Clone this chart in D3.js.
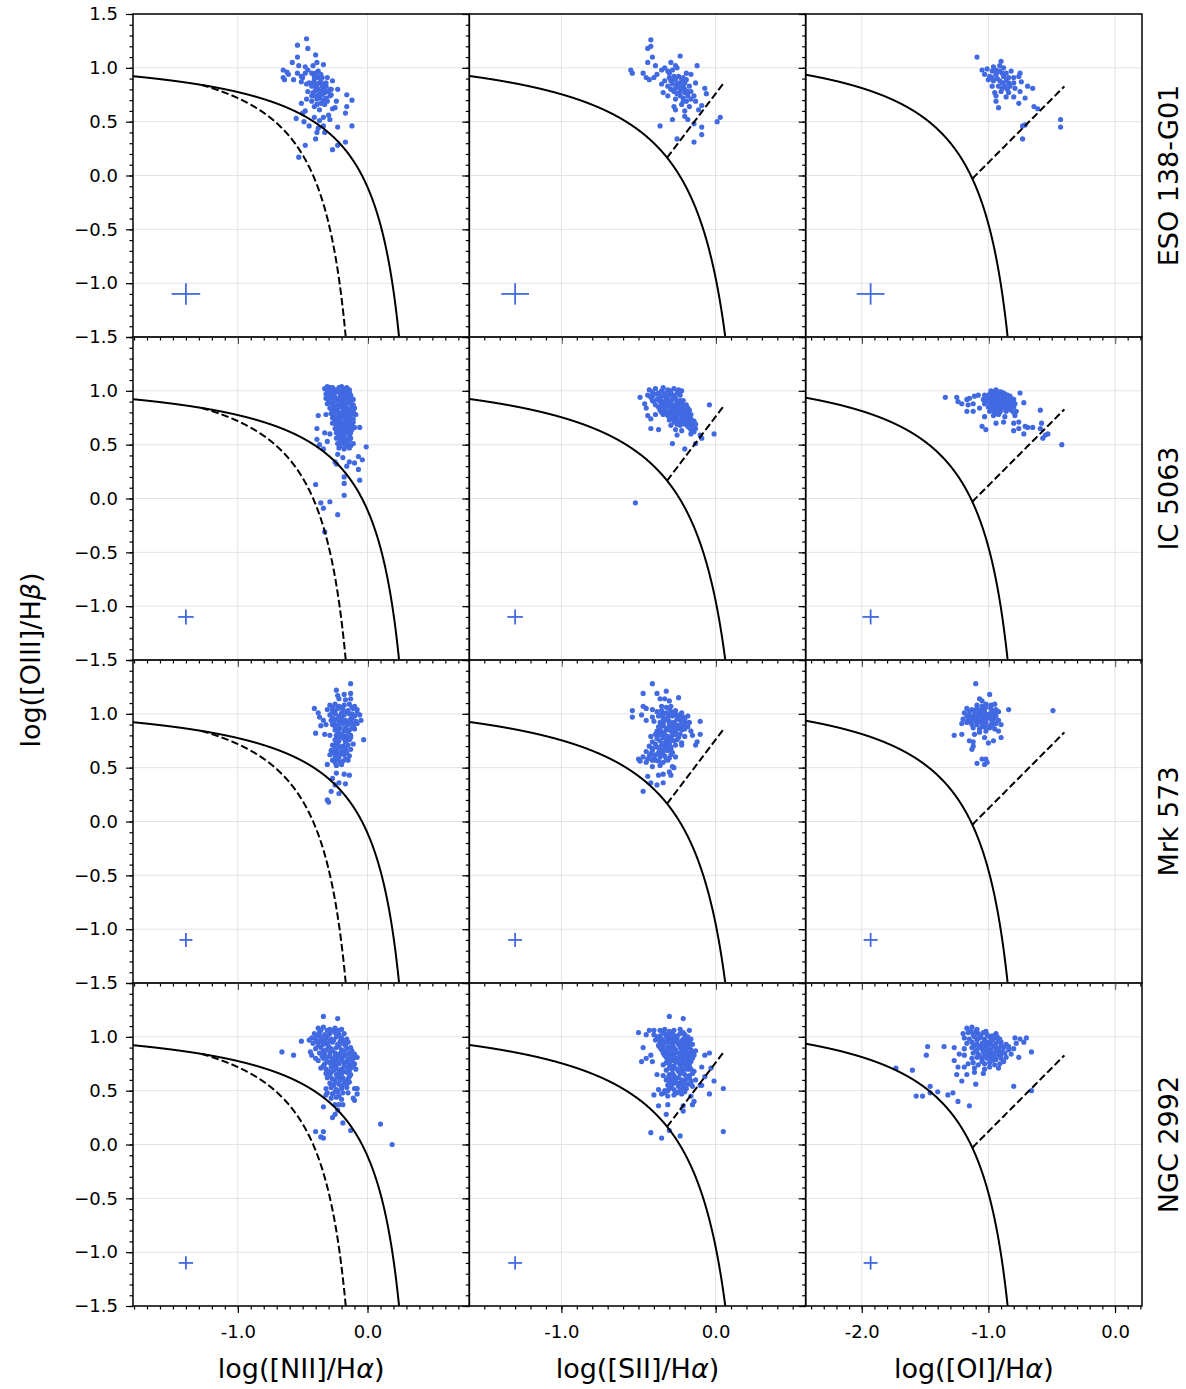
<!DOCTYPE html>
<meta charset="utf-8">
<style>
body { margin: 0; background: #fff; }
text { font-family: "DejaVu Sans", sans-serif; fill: #000; }
.grid line { stroke: #e3e3e3; stroke-width: 1; }
.tick line { stroke: #000; stroke-width: 1.2; }
.tick text { font-size: 18px; }
.axislabel { font-size: 27px; }
</style>

<svg width="1186" height="1389"></svg>
<script src="https://cdn.jsdelivr.net/npm/d3@7"></script>

<script>

// ---- data (x = log line ratio, y = log([OIII]/Hb)) ----
var galaxies = ["ESO 138-G01", "IC 5063", "Mrk 573", "NGC 2992"];
var xNames = ["NII", "SII", "OI"];

var xDomains = [[-1.808, 0.785], [-1.597, 0.584], [-2.443, 0.213]];
var xMajor = [[-1, 0], [-1, 0], [-2, -1, 0]];
var yMajor = [-1.5, -1, -0.5, 0, 0.5, 1, 1.5];

// typical error bar, drawn in the lower left of each panel
var errPosX = [-1.4, -1.3, -1.93];
var errPosY = -1.1;
var errX = [[0.11, 0.09, 0.11], [0.06, 0.05, 0.065], [0.05, 0.045, 0.055], [0.055, 0.045, 0.055]];
var errY = [0.1, 0.07, 0.065, 0.062];

var eso_nii = [[-0.47,1.27],[-0.54,1.21],[-0.46,1.18],[-0.40,1.12],[-0.54,1.10],[-0.58,1.05],[-0.39,1.05],[-0.53,1.02],[-0.48,1.01],[-0.42,1.02],[-0.34,1.03],[-0.65,0.98],[-0.62,0.96],[-0.61,0.94],[-0.65,0.91],[-0.64,0.89],[-0.57,0.89],[-0.54,0.95],[-0.50,0.91],[-0.46,0.98],[-0.43,0.95],[-0.38,0.97],[-0.36,0.94],[-0.31,0.91],[-0.27,0.88],[-0.51,0.87],[-0.47,0.85],[-0.41,0.89],[-0.37,0.86],[-0.43,0.83],[-0.39,0.81],[-0.34,0.81],[-0.29,0.80],[-0.23,0.80],[-0.46,0.78],[-0.42,0.77],[-0.38,0.75],[-0.33,0.77],[-0.28,0.75],[-0.16,0.75],[-0.24,0.69],[-0.12,0.70],[-0.47,0.71],[-0.51,0.67],[-0.43,0.69],[-0.41,0.64],[-0.37,0.61],[-0.33,0.66],[-0.27,0.62],[-0.25,0.63],[-0.16,0.64],[-0.17,0.58],[-0.48,0.60],[-0.50,0.58],[-0.55,0.53],[-0.49,0.50],[-0.41,0.54],[-0.37,0.51],[-0.34,0.54],[-0.30,0.56],[-0.29,0.52],[-0.45,0.46],[-0.38,0.44],[-0.34,0.46],[-0.33,0.40],[-0.23,0.45],[-0.12,0.46],[-0.39,0.40],[-0.40,0.34],[-0.17,0.31],[-0.23,0.28],[-0.48,0.28],[-0.27,0.24],[-0.53,0.17],[-0.41,0.92],[-0.38,0.91],[-0.36,0.89],[-0.42,0.86],[-0.39,0.85],[-0.34,0.85],[-0.32,0.83],[-0.38,0.80],[-0.36,0.78],[-0.41,0.74],[-0.37,0.72],[-0.32,0.72],[-0.31,0.69],[-0.36,0.67],[-0.39,0.66],[-0.29,0.74],[-0.28,0.80],[-0.43,0.74],[-0.45,0.86],[-0.48,0.95],[-0.51,0.92],[-0.32,0.86],[-0.40,0.95],[-0.35,0.91],[-0.40,0.83],[-0.35,0.83],[-0.33,0.79],[-0.40,0.79],[-0.35,0.75],[-0.39,0.71],[-0.34,0.70],[-0.30,0.78]];

var eso_sii = [[-0.42,1.26],[-0.42,1.20],[-0.44,1.18],[-0.41,1.10],[-0.23,1.11],[-0.44,1.05],[-0.39,1.02],[-0.29,1.05],[-0.26,1.02],[-0.12,1.02],[-0.55,0.98],[-0.54,0.95],[-0.47,0.95],[-0.45,0.91],[-0.43,0.89],[-0.40,0.91],[-0.38,0.94],[-0.33,1.00],[-0.31,0.97],[-0.28,0.98],[-0.25,1.00],[-0.19,0.95],[-0.16,0.94],[-0.33,0.88],[-0.30,0.91],[-0.27,0.92],[-0.22,0.89],[-0.19,0.89],[-0.13,0.86],[-0.35,0.85],[-0.31,0.83],[-0.28,0.85],[-0.25,0.85],[-0.21,0.83],[-0.17,0.83],[-0.07,0.81],[-0.34,0.77],[-0.31,0.74],[-0.27,0.78],[-0.23,0.78],[-0.20,0.77],[-0.14,0.74],[-0.06,0.76],[-0.26,0.71],[-0.21,0.72],[-0.19,0.69],[-0.13,0.69],[-0.09,0.65],[-0.27,0.64],[-0.26,0.61],[-0.20,0.60],[-0.17,0.64],[-0.11,0.61],[-0.28,0.52],[-0.20,0.55],[-0.18,0.52],[-0.14,0.48],[-0.09,0.45],[0.03,0.54],[0.01,0.50],[-0.36,0.46],[-0.09,0.38],[-0.25,0.34],[-0.14,0.31],[-0.29,0.88],[-0.26,0.89],[-0.23,0.86],[-0.20,0.86],[-0.22,0.81],[-0.26,0.81],[-0.29,0.80],[-0.18,0.78],[-0.23,0.74],[-0.16,0.71],[-0.22,0.66],[-0.18,0.74],[-0.30,0.95],[-0.35,0.98],[-0.24,0.92],[-0.28,0.89],[-0.21,0.91],[-0.24,0.82],[-0.20,0.80],[-0.25,0.76],[-0.21,0.69],[-0.16,0.78]];

var eso_oi = [[-1.09,1.10],[-0.90,1.06],[-1.05,0.98],[-1.01,0.99],[-0.96,1.01],[-0.91,1.02],[-0.88,1.00],[-0.82,0.97],[-0.75,0.95],[-1.03,0.94],[-0.99,0.92],[-0.94,0.94],[-0.88,0.92],[-0.84,0.91],[-0.76,0.92],[-1.00,0.89],[-0.96,0.88],[-0.91,0.88],[-0.86,0.88],[-0.80,0.86],[-0.74,0.87],[-0.97,0.83],[-0.92,0.83],[-0.87,0.83],[-0.83,0.83],[-0.79,0.81],[-0.69,0.83],[-0.65,0.81],[-0.95,0.77],[-0.90,0.78],[-0.84,0.77],[-0.75,0.78],[-0.94,0.74],[-0.86,0.73],[-0.80,0.73],[-0.71,0.72],[-0.94,0.69],[-0.76,0.67],[-0.92,0.63],[-0.64,0.64],[-0.61,0.62],[-0.71,0.47],[-0.73,0.46],[-0.43,0.52],[-0.43,0.45],[-0.73,0.34],[-0.91,0.97],[-0.86,0.95],[-0.94,0.98],[-0.80,0.91],[-0.97,0.97],[-0.93,0.96],[-0.89,0.95],[-0.97,0.91],[-0.93,0.90],[-0.89,0.86],[-0.84,0.86],[-0.89,0.81],[-0.85,0.80]];

var ic_nii = [[-0.33,1.02],[-0.29,1.03],[-0.25,1.01],[-0.22,1.03],[-0.18,1.02],[-0.14,1.01],[-0.32,0.97],[-0.28,0.98],[-0.24,0.99],[-0.20,0.97],[-0.16,0.98],[-0.13,0.96],[-0.32,0.93],[-0.27,0.94],[-0.23,0.92],[-0.19,0.93],[-0.15,0.94],[-0.11,0.92],[-0.31,0.88],[-0.27,0.89],[-0.23,0.87],[-0.19,0.88],[-0.15,0.89],[-0.11,0.87],[-0.29,0.84],[-0.25,0.83],[-0.22,0.85],[-0.18,0.84],[-0.14,0.83],[-0.10,0.84],[-0.28,0.79],[-0.24,0.80],[-0.20,0.78],[-0.16,0.79],[-0.13,0.80],[-0.09,0.78],[-0.27,0.75],[-0.23,0.74],[-0.19,0.76],[-0.15,0.75],[-0.11,0.74],[-0.27,0.70],[-0.23,0.71],[-0.19,0.69],[-0.15,0.70],[-0.11,0.71],[-0.25,0.65],[-0.22,0.66],[-0.18,0.64],[-0.14,0.65],[-0.10,0.66],[-0.24,0.61],[-0.20,0.60],[-0.16,0.62],[-0.13,0.61],[-0.24,0.56],[-0.20,0.57],[-0.16,0.55],[-0.13,0.56],[-0.23,0.51],[-0.19,0.52],[-0.15,0.50],[-0.11,0.51],[-0.22,0.47],[-0.18,0.46],[-0.14,0.47],[-0.38,0.77],[-0.32,0.78],[-0.06,0.66],[-0.39,0.65],[-0.33,0.61],[-0.29,0.60],[-0.39,0.55],[-0.31,0.53],[-0.37,0.50],[-0.34,0.46],[-0.01,0.48],[-0.23,0.41],[-0.25,0.34],[-0.24,0.32],[-0.19,0.38],[-0.14,0.34],[-0.10,0.33],[-0.07,0.39],[-0.04,0.36],[-0.07,0.27],[-0.16,0.30],[-0.18,0.20],[-0.06,0.17],[-0.18,0.14],[-0.40,0.13],[-0.18,0.03],[-0.29,-0.03],[-0.36,-0.04],[-0.34,-0.09],[-0.23,-0.15],[-0.33,-0.31],[-0.30,0.95],[-0.26,0.96],[-0.21,0.95],[-0.17,0.96],[-0.13,0.90],[-0.25,0.86],[-0.21,0.86],[-0.17,0.86],[-0.12,0.85],[-0.26,0.77],[-0.22,0.77],[-0.18,0.77],[-0.14,0.77],[-0.25,0.72],[-0.21,0.72],[-0.17,0.72],[-0.13,0.72],[-0.22,0.63],[-0.18,0.62],[-0.22,0.58],[-0.18,0.58],[-0.21,0.54],[-0.17,0.53],[-0.31,1.00],[-0.27,1.00],[-0.23,1.00],[-0.19,1.00],[-0.16,1.01],[-0.30,0.91],[-0.25,0.91],[-0.21,0.90],[-0.17,0.91],[-0.13,0.93],[-0.27,0.82],[-0.23,0.81],[-0.19,0.81],[-0.15,0.82],[-0.11,0.81],[-0.24,0.68],[-0.20,0.67],[-0.16,0.68],[-0.12,0.68],[-0.31,1.04],[-0.27,1.03],[-0.20,1.04],[-0.16,1.03],[-0.30,0.98],[-0.22,0.99],[-0.14,0.99],[-0.29,0.93],[-0.25,0.94],[-0.17,0.94],[-0.13,0.95],[-0.29,0.89],[-0.21,0.89],[-0.13,0.88],[-0.27,0.85],[-0.20,0.85],[-0.16,0.84],[-0.12,0.83],[-0.26,0.80],[-0.22,0.79],[-0.18,0.80],[-0.11,0.79],[-0.25,0.75],[-0.21,0.74],[-0.17,0.75],[-0.13,0.75],[-0.25,0.70],[-0.21,0.70],[-0.17,0.70],[-0.13,0.70],[-0.20,0.64],[-0.16,0.65],[-0.12,0.64],[-0.18,0.60],[-0.14,0.59],[-0.18,0.55],[-0.14,0.54],[-0.21,0.49],[-0.17,0.49],[-0.13,0.49]];

var ic_sii = [[-0.43,1.01],[-0.39,1.02],[-0.35,1.00],[-0.31,1.01],[-0.27,1.02],[-0.22,1.00],[-0.44,0.96],[-0.40,0.97],[-0.36,0.95],[-0.33,0.96],[-0.30,0.97],[-0.27,0.95],[-0.23,0.96],[-0.41,0.91],[-0.38,0.92],[-0.34,0.90],[-0.31,0.91],[-0.28,0.92],[-0.25,0.90],[-0.21,0.91],[-0.39,0.87],[-0.35,0.86],[-0.32,0.88],[-0.29,0.87],[-0.26,0.86],[-0.22,0.88],[-0.19,0.87],[-0.36,0.82],[-0.33,0.83],[-0.30,0.81],[-0.27,0.82],[-0.23,0.83],[-0.20,0.81],[-0.17,0.82],[-0.34,0.78],[-0.31,0.77],[-0.28,0.79],[-0.25,0.78],[-0.21,0.77],[-0.18,0.79],[-0.16,0.78],[-0.30,0.73],[-0.27,0.74],[-0.23,0.72],[-0.19,0.73],[-0.16,0.74],[-0.14,0.72],[-0.29,0.68],[-0.25,0.69],[-0.18,0.67],[-0.15,0.68],[-0.13,0.69],[-0.26,0.64],[-0.22,0.63],[-0.16,0.64],[-0.13,0.65],[-0.25,0.59],[-0.16,0.60],[-0.10,0.59],[-0.49,0.94],[-0.46,0.88],[-0.45,0.84],[-0.44,0.77],[-0.42,0.74],[-0.42,0.65],[-0.37,0.64],[-0.39,0.78],[-0.04,0.87],[-0.09,0.56],[-0.13,0.51],[-0.28,0.51],[-0.20,0.46],[-0.01,0.60],[-0.52,-0.04],[-0.37,0.98],[-0.33,0.98],[-0.29,0.98],[-0.25,0.98],[-0.36,0.93],[-0.32,0.93],[-0.26,0.93],[-0.30,0.89],[-0.24,0.89],[-0.28,0.84],[-0.22,0.84],[-0.26,0.80],[-0.20,0.80],[-0.25,0.75],[-0.21,0.71],[-0.17,0.70],[-0.41,0.99],[-0.34,1.03],[-0.29,1.00],[-0.24,1.01],[-0.42,0.94],[-0.35,0.88],[-0.30,0.85],[-0.24,0.85],[-0.18,0.84],[-0.32,0.80],[-0.23,0.79],[-0.28,0.76],[-0.19,0.75],[-0.27,0.71],[-0.20,0.69],[-0.17,0.66],[-0.41,0.95],[-0.38,0.97],[-0.35,0.95],[-0.31,0.95],[-0.28,0.96],[-0.24,0.97],[-0.40,0.90],[-0.36,0.90],[-0.32,0.90],[-0.29,0.91],[-0.23,0.91],[-0.37,0.85],[-0.33,0.86],[-0.27,0.87],[-0.21,0.86],[-0.35,0.80],[-0.29,0.82],[-0.25,0.82],[-0.19,0.82],[-0.30,0.78],[-0.27,0.78],[-0.22,0.76],[-0.18,0.76],[-0.25,0.73],[-0.21,0.74],[-0.17,0.72],[-0.23,0.68],[-0.19,0.70],[-0.15,0.66],[-0.14,0.62]];

var ic_oi = [[-1.34,0.94],[-1.25,0.94],[-1.24,0.90],[-1.21,0.88],[-1.17,0.92],[-1.15,0.93],[-1.11,0.95],[-1.08,0.96],[-1.16,0.87],[-1.12,0.88],[-1.17,0.81],[-1.12,0.81],[-1.07,0.84],[-0.98,1.00],[-0.94,1.01],[-0.90,0.99],[-1.03,0.96],[-0.99,0.97],[-0.95,0.95],[-0.91,0.96],[-0.87,0.97],[-0.83,0.95],[-1.04,0.92],[-1.00,0.93],[-0.96,0.91],[-0.92,0.92],[-0.88,0.93],[-0.84,0.91],[-0.80,0.92],[-1.03,0.88],[-0.99,0.89],[-0.95,0.87],[-0.91,0.88],[-0.87,0.89],[-0.83,0.87],[-0.79,0.88],[-1.00,0.85],[-0.96,0.84],[-0.92,0.86],[-0.88,0.85],[-0.84,0.84],[-0.80,0.85],[-0.99,0.81],[-0.95,0.80],[-0.90,0.82],[-0.86,0.81],[-0.80,0.80],[-0.78,0.81],[-0.96,0.77],[-0.92,0.78],[-0.87,0.76],[-0.79,0.77],[-0.75,0.98],[-0.72,0.89],[-0.59,0.82],[-1.03,0.76],[-1.05,0.67],[-1.02,0.64],[-0.94,0.70],[-0.88,0.71],[-0.80,0.70],[-0.76,0.71],[-0.80,0.63],[-0.76,0.65],[-0.71,0.67],[-0.69,0.66],[-0.65,0.66],[-0.72,0.60],[-0.58,0.70],[-0.59,0.65],[-0.55,0.59],[-0.57,0.56],[-0.53,0.60],[-0.42,0.50],[-0.97,0.98],[-0.93,0.98],[-0.97,0.90],[-0.93,0.90],[-0.89,0.90],[-0.85,0.90],[-0.93,0.83],[-0.89,0.86],[-1.01,0.95],[-0.97,0.94],[-0.89,0.95],[-0.85,0.96],[-1.02,0.90],[-0.98,0.86],[-0.94,0.88],[-0.90,0.87],[-0.86,0.87],[-0.82,0.89],[-0.98,0.83],[-0.91,0.80],[-0.86,0.83],[-0.82,0.82],[-0.96,0.99],[-0.92,0.99],[-0.88,0.98],[-1.00,0.95],[-0.92,0.94],[-0.87,0.94],[-0.98,0.91],[-0.94,0.92],[-0.90,0.91],[-0.86,0.91],[-0.82,0.93],[-0.95,0.86],[-0.91,0.85],[-0.87,0.86],[-0.83,0.85]];

var mrk_nii = [[-0.13,1.28],[-0.24,1.22],[-0.23,1.17],[-0.18,1.18],[-0.13,1.19],[-0.22,1.14],[-0.17,1.13],[-0.13,1.14],[-0.41,1.05],[-0.38,1.01],[-0.37,0.97],[-0.36,0.89],[-0.40,0.82],[-0.33,0.81],[-0.29,0.80],[-0.32,0.90],[-0.34,0.94],[-0.29,1.08],[-0.25,1.09],[-0.22,1.07],[-0.18,1.08],[-0.14,1.09],[-0.10,1.07],[-0.31,1.04],[-0.27,1.03],[-0.23,1.05],[-0.19,1.04],[-0.15,1.03],[-0.11,1.05],[-0.08,1.04],[-0.29,0.99],[-0.25,1.00],[-0.22,0.98],[-0.18,0.99],[-0.14,1.00],[-0.10,0.98],[-0.06,0.99],[-0.28,0.94],[-0.24,0.95],[-0.20,0.93],[-0.17,0.94],[-0.13,0.95],[-0.09,0.93],[-0.05,0.94],[-0.27,0.90],[-0.23,0.89],[-0.19,0.91],[-0.15,0.90],[-0.11,0.89],[-0.08,0.91],[-0.25,0.85],[-0.22,0.86],[-0.18,0.84],[-0.14,0.85],[-0.10,0.86],[-0.24,0.80],[-0.20,0.81],[-0.17,0.79],[-0.13,0.80],[-0.25,0.76],[-0.22,0.75],[-0.18,0.77],[-0.14,0.76],[-0.03,0.76],[-0.27,0.71],[-0.23,0.72],[-0.19,0.70],[-0.15,0.71],[-0.11,0.72],[-0.28,0.66],[-0.24,0.67],[-0.20,0.65],[-0.17,0.66],[-0.13,0.67],[-0.29,0.62],[-0.25,0.61],[-0.22,0.63],[-0.18,0.62],[-0.14,0.61],[-0.27,0.57],[-0.23,0.58],[-0.19,0.56],[-0.15,0.57],[-0.31,0.53],[-0.24,0.52],[-0.20,0.53],[-0.24,0.45],[-0.18,0.44],[-0.14,0.43],[-0.27,0.40],[-0.22,0.36],[-0.25,0.34],[-0.17,0.35],[-0.28,0.28],[-0.22,0.26],[-0.31,0.20],[-0.30,0.18],[-0.27,1.06],[-0.20,1.06],[-0.12,1.06],[-0.27,0.96],[-0.20,0.96],[-0.12,0.96],[-0.16,0.92],[-0.21,0.87],[-0.12,0.87],[-0.19,0.78],[-0.15,0.78],[-0.21,0.69],[-0.22,0.60],[-0.21,0.55],[-0.25,1.02],[-0.16,1.02],[-0.08,1.01],[-0.22,0.92],[-0.13,0.92],[-0.25,0.88],[-0.17,0.87],[-0.22,0.82],[-0.15,0.83],[-0.23,0.78],[-0.25,0.69],[-0.17,0.69],[-0.26,0.64],[-0.16,0.64],[-0.25,0.55],[-0.27,1.01],[-0.20,1.01],[-0.12,1.00],[-0.26,0.92],[-0.18,0.92],[-0.10,0.91],[-0.23,0.84],[-0.16,0.85],[-0.21,0.79],[-0.13,0.78],[-0.24,0.73],[-0.17,0.74],[-0.23,0.64],[-0.19,0.63],[-0.24,0.59],[-0.17,0.58]];

var mrk_sii = [[-0.41,1.28],[-0.47,1.19],[-0.38,1.19],[-0.32,1.21],[-0.36,1.14],[-0.33,1.14],[-0.30,1.12],[-0.24,1.15],[-0.54,1.03],[-0.54,0.97],[-0.47,1.07],[-0.45,1.05],[-0.48,0.99],[-0.45,0.94],[-0.41,1.04],[-0.35,1.07],[-0.32,1.06],[-0.29,1.07],[-0.38,1.02],[-0.35,1.03],[-0.32,1.01],[-0.29,1.02],[-0.26,1.03],[-0.22,1.01],[-0.41,0.97],[-0.37,0.98],[-0.34,0.96],[-0.31,0.97],[-0.28,0.98],[-0.24,0.96],[-0.21,0.97],[-0.18,0.98],[-0.40,0.93],[-0.36,0.92],[-0.33,0.94],[-0.30,0.93],[-0.27,0.92],[-0.23,0.94],[-0.20,0.93],[-0.17,0.92],[-0.37,0.88],[-0.34,0.89],[-0.31,0.87],[-0.28,0.88],[-0.24,0.89],[-0.21,0.87],[-0.18,0.88],[-0.38,0.84],[-0.35,0.83],[-0.32,0.85],[-0.29,0.84],[-0.26,0.83],[-0.22,0.85],[-0.16,0.84],[-0.42,0.79],[-0.37,0.80],[-0.34,0.78],[-0.31,0.79],[-0.28,0.80],[-0.24,0.78],[-0.20,0.79],[-0.41,0.74],[-0.36,0.75],[-0.33,0.73],[-0.30,0.74],[-0.27,0.75],[-0.22,0.73],[-0.12,0.74],[-0.43,0.70],[-0.38,0.69],[-0.35,0.71],[-0.32,0.70],[-0.29,0.69],[-0.26,0.71],[-0.45,0.65],[-0.41,0.66],[-0.37,0.64],[-0.34,0.65],[-0.31,0.66],[-0.28,0.64],[-0.47,0.60],[-0.43,0.61],[-0.40,0.59],[-0.36,0.60],[-0.33,0.61],[-0.30,0.59],[-0.26,0.60],[-0.49,0.56],[-0.45,0.55],[-0.41,0.57],[-0.37,0.56],[-0.34,0.55],[-0.31,0.57],[-0.41,0.51],[-0.36,0.52],[-0.28,0.51],[-0.10,0.93],[-0.10,0.81],[-0.15,0.80],[-0.13,0.71],[-0.22,0.71],[-0.50,0.58],[-0.27,0.50],[-0.44,0.42],[-0.37,0.43],[-0.34,0.44],[-0.30,0.46],[-0.29,0.43],[-0.42,0.36],[-0.38,0.34],[-0.34,0.36],[-0.47,0.28],[-0.30,1.05],[-0.25,0.99],[-0.25,0.95],[-0.22,0.90],[-0.26,0.90],[-0.30,0.91],[-0.32,0.86],[-0.25,0.86],[-0.20,0.86],[-0.34,1.00],[-0.27,1.00],[-0.20,0.95],[-0.35,0.90],[-0.28,0.86],[-0.23,0.81],[-0.35,0.81],[-0.32,0.76],[-0.25,0.76],[-0.39,0.72],[-0.30,0.72],[-0.36,0.67],[-0.29,0.67],[-0.39,0.62],[-0.32,0.58],[-0.44,0.58],[-0.36,0.99],[-0.30,0.99],[-0.23,0.99],[-0.34,0.91],[-0.29,0.90],[-0.20,0.91],[-0.36,0.86],[-0.30,0.86],[-0.23,0.87],[-0.39,0.81],[-0.33,0.81],[-0.26,0.81],[-0.38,0.77],[-0.29,0.77],[-0.41,0.68],[-0.33,0.68],[-0.42,0.63],[-0.35,0.62],[-0.29,0.62],[-0.39,0.57]];

var mrk_oi = [[-1.10,1.28],[-0.99,1.18],[-1.07,1.14],[-1.05,1.12],[-0.95,1.09],[-0.84,1.04],[-0.49,1.03],[-1.09,1.08],[-1.05,1.07],[-1.02,1.09],[-0.98,1.08],[-1.17,1.05],[-1.13,1.04],[-1.09,1.05],[-1.05,1.04],[-1.02,1.06],[-0.98,1.05],[-0.94,1.04],[-1.19,1.01],[-1.15,1.02],[-1.11,1.00],[-1.07,1.01],[-1.03,1.02],[-0.99,1.00],[-0.95,1.01],[-0.92,1.02],[-1.17,0.98],[-1.13,0.97],[-1.09,0.99],[-1.05,0.98],[-1.02,0.97],[-0.98,0.99],[-0.94,0.98],[-1.20,0.95],[-1.16,0.94],[-1.12,0.96],[-1.08,0.95],[-1.04,0.94],[-1.00,0.96],[-0.96,0.95],[-0.92,0.94],[-1.21,0.91],[-1.17,0.92],[-1.13,0.90],[-1.05,0.91],[-1.02,0.92],[-0.98,0.90],[-0.94,0.91],[-0.90,0.90],[-1.12,0.87],[-1.07,0.86],[-1.03,0.88],[-0.99,0.87],[-0.95,0.86],[-1.27,0.80],[-1.21,0.81],[-1.11,0.81],[-1.07,0.83],[-1.02,0.84],[-0.92,0.84],[-0.90,0.78],[-1.15,0.75],[-1.12,0.74],[-1.03,0.78],[-1.00,0.73],[-0.96,0.75],[-1.12,0.70],[-1.13,0.67],[-1.05,0.58],[-1.02,0.58],[-1.09,0.54],[-1.03,0.53],[-1.01,0.55],[-1.07,0.99],[-1.00,0.99],[-1.10,0.93],[-1.06,0.93],[-1.00,0.97],[-1.03,0.89],[-0.97,0.89],[-1.11,1.03],[-1.07,1.03],[-1.03,1.00],[-0.97,1.03],[-1.15,0.98],[-1.11,0.98],[-1.04,0.97],[-0.96,0.97],[-1.14,0.93],[-1.08,0.93],[-1.02,0.95],[-0.97,0.93],[-1.09,0.90],[-1.05,0.88],[-1.00,0.88]];

var ngc_nii = [[-0.34,1.19],[-0.23,1.17],[-0.66,0.86],[-0.57,0.83],[-0.51,0.96],[-0.45,0.97],[-0.38,1.08],[-0.34,1.09],[-0.29,1.07],[-0.25,1.08],[-0.20,1.07],[-0.41,1.03],[-0.37,1.04],[-0.33,1.02],[-0.29,1.03],[-0.25,1.04],[-0.22,1.02],[-0.18,1.03],[-0.43,0.99],[-0.40,0.98],[-0.36,1.00],[-0.32,0.99],[-0.28,0.98],[-0.24,1.00],[-0.20,0.99],[-0.16,0.98],[-0.42,0.94],[-0.38,0.95],[-0.34,0.93],[-0.31,0.94],[-0.27,0.95],[-0.23,0.93],[-0.19,0.94],[-0.15,0.95],[-0.40,0.89],[-0.36,0.90],[-0.32,0.88],[-0.28,0.89],[-0.24,0.90],[-0.20,0.88],[-0.16,0.89],[-0.13,0.90],[-0.37,0.85],[-0.33,0.84],[-0.29,0.86],[-0.25,0.85],[-0.22,0.84],[-0.18,0.86],[-0.14,0.85],[-0.10,0.84],[-0.34,0.80],[-0.31,0.81],[-0.27,0.79],[-0.23,0.80],[-0.19,0.81],[-0.15,0.79],[-0.11,0.80],[-0.08,0.81],[-0.33,0.75],[-0.29,0.76],[-0.25,0.74],[-0.22,0.75],[-0.18,0.76],[-0.14,0.74],[-0.10,0.75],[-0.36,0.71],[-0.32,0.70],[-0.28,0.72],[-0.24,0.71],[-0.20,0.70],[-0.16,0.72],[-0.13,0.71],[-0.09,0.70],[-0.32,0.66],[-0.28,0.67],[-0.24,0.65],[-0.20,0.66],[-0.16,0.67],[-0.13,0.65],[-0.31,0.62],[-0.27,0.61],[-0.23,0.63],[-0.19,0.62],[-0.15,0.61],[-0.29,0.57],[-0.25,0.58],[-0.22,0.56],[-0.18,0.57],[-0.14,0.58],[-0.32,0.52],[-0.28,0.53],[-0.24,0.51],[-0.20,0.52],[-0.16,0.53],[-0.10,0.52],[-0.31,0.48],[-0.27,0.47],[-0.23,0.49],[-0.15,0.48],[-0.08,0.47],[-0.28,0.43],[-0.24,0.44],[-0.20,0.42],[-0.11,0.43],[-0.43,0.83],[-0.40,0.80],[-0.38,0.78],[-0.44,0.86],[-0.32,0.46],[-0.25,0.37],[-0.22,0.37],[-0.19,0.37],[-0.34,0.35],[-0.23,0.32],[-0.25,0.28],[-0.27,0.25],[-0.19,0.20],[-0.13,0.13],[-0.40,0.12],[-0.34,0.12],[-0.36,0.07],[-0.34,0.06],[0.10,0.19],[0.19,0.00],[-0.10,0.41],[-0.08,0.52],[-0.39,1.01],[-0.31,1.01],[-0.23,1.01],[-0.36,0.96],[-0.29,0.96],[-0.21,0.96],[-0.34,0.87],[-0.27,0.87],[-0.20,0.86],[-0.12,0.87],[-0.29,0.82],[-0.21,0.82],[-0.13,0.82],[-0.27,0.77],[-0.20,0.78],[-0.12,0.77],[-0.30,0.68],[-0.22,0.68],[-0.14,0.69],[-0.25,0.60],[-0.17,0.59],[-0.26,0.55],[-0.22,0.45],[-0.36,1.06],[-0.31,1.06],[-0.27,1.06],[-0.22,1.06],[-0.39,0.96],[-0.33,0.97],[-0.26,0.97],[-0.18,0.96],[-0.38,0.92],[-0.30,0.91],[-0.22,0.91],[-0.17,0.92],[-0.35,0.82],[-0.25,0.82],[-0.17,0.83],[-0.10,0.81],[-0.31,0.77],[-0.24,0.77],[-0.16,0.77],[-0.34,0.73],[-0.26,0.73],[-0.18,0.73],[-0.11,0.73],[-0.26,0.69],[-0.18,0.68],[-0.29,0.64],[-0.22,0.64],[-0.14,0.63],[-0.21,0.60],[-0.27,0.55],[-0.20,0.54],[-0.16,0.56],[-0.25,0.49],[-0.19,0.48]];

var ngc_sii = [[-0.30,1.19],[-0.21,1.17],[-0.50,1.04],[-0.45,1.02],[-0.43,1.06],[-0.40,1.06],[-0.47,0.90],[-0.48,0.77],[-0.45,0.80],[-0.42,0.83],[-0.41,0.77],[-0.38,0.65],[-0.34,0.64],[-0.17,1.06],[-0.36,1.06],[-0.33,1.07],[-0.30,1.05],[-0.27,1.06],[-0.23,1.07],[-0.40,1.02],[-0.36,1.01],[-0.33,1.03],[-0.30,1.02],[-0.27,1.01],[-0.23,1.03],[-0.20,1.02],[-0.39,0.97],[-0.35,0.98],[-0.32,0.96],[-0.29,0.97],[-0.26,0.98],[-0.22,0.96],[-0.19,0.97],[-0.16,0.98],[-0.37,0.92],[-0.34,0.93],[-0.31,0.91],[-0.28,0.92],[-0.24,0.93],[-0.21,0.91],[-0.18,0.92],[-0.15,0.93],[-0.35,0.88],[-0.32,0.87],[-0.29,0.89],[-0.26,0.88],[-0.22,0.87],[-0.19,0.89],[-0.16,0.88],[-0.13,0.87],[-0.33,0.83],[-0.30,0.84],[-0.27,0.82],[-0.23,0.83],[-0.20,0.84],[-0.17,0.82],[-0.14,0.83],[-0.31,0.79],[-0.28,0.78],[-0.24,0.80],[-0.21,0.79],[-0.18,0.78],[-0.15,0.80],[-0.34,0.74],[-0.30,0.75],[-0.27,0.73],[-0.23,0.74],[-0.20,0.75],[-0.17,0.73],[-0.32,0.69],[-0.28,0.70],[-0.24,0.68],[-0.21,0.69],[-0.18,0.70],[-0.14,0.68],[-0.30,0.65],[-0.27,0.64],[-0.23,0.66],[-0.20,0.65],[-0.17,0.64],[-0.32,0.60],[-0.29,0.61],[-0.26,0.59],[-0.22,0.60],[-0.19,0.61],[-0.16,0.59],[-0.13,0.60],[-0.31,0.55],[-0.28,0.56],[-0.24,0.54],[-0.21,0.55],[-0.18,0.56],[-0.15,0.54],[-0.10,0.55],[-0.37,0.51],[-0.33,0.50],[-0.30,0.52],[-0.27,0.51],[-0.23,0.50],[-0.19,0.52],[-0.40,0.46],[-0.35,0.47],[-0.31,0.45],[-0.27,0.46],[-0.22,0.47],[-0.16,0.45],[-0.07,0.83],[-0.04,0.85],[-0.09,0.72],[-0.03,0.71],[-0.07,0.63],[-0.09,0.55],[-0.01,0.59],[0.05,0.52],[-0.04,0.47],[-0.14,0.40],[-0.21,0.36],[-0.15,0.37],[-0.37,0.36],[-0.31,0.37],[-0.32,0.28],[-0.21,0.31],[-0.42,0.11],[-0.30,0.13],[-0.35,0.06],[-0.23,0.08],[0.05,0.12],[-0.31,0.99],[-0.25,0.99],[-0.28,0.94],[-0.22,0.94],[-0.26,0.85],[-0.21,0.81],[-0.22,0.76],[-0.26,0.62],[-0.25,0.57],[-0.38,1.00],[-0.32,1.00],[-0.25,1.01],[-0.18,1.00],[-0.36,0.95],[-0.30,0.95],[-0.24,0.95],[-0.17,0.95],[-0.34,0.90],[-0.27,0.90],[-0.20,0.90],[-0.31,0.86],[-0.24,0.85],[-0.18,0.85],[-0.29,0.81],[-0.19,0.81],[-0.26,0.77],[-0.16,0.77],[-0.29,0.72],[-0.19,0.72],[-0.25,0.70],[-0.28,0.58],[-0.20,0.58],[-0.29,0.53],[-0.21,0.53],[-0.33,0.48],[-0.25,0.48],[-0.34,1.04],[-0.28,1.04],[-0.21,1.04],[-0.37,0.99],[-0.28,0.99],[-0.21,0.98],[-0.33,0.95],[-0.27,0.95],[-0.20,0.95],[-0.36,0.90],[-0.30,0.89],[-0.23,0.90],[-0.17,0.90],[-0.34,0.85],[-0.28,0.85],[-0.21,0.86],[-0.15,0.85],[-0.32,0.81],[-0.26,0.80],[-0.17,0.80],[-0.32,0.76],[-0.24,0.76],[-0.18,0.76],[-0.30,0.71],[-0.22,0.71],[-0.16,0.70],[-0.28,0.66],[-0.21,0.67],[-0.15,0.66],[-0.31,0.62],[-0.24,0.62],[-0.17,0.62],[-0.30,0.57],[-0.23,0.57],[-0.16,0.57],[-0.31,0.50],[-0.26,0.49],[-0.20,0.49]];

var ngc_oi = [[-1.73,0.71],[-1.60,0.69],[-1.48,0.91],[-1.49,0.83],[-1.35,0.91],[-1.46,0.54],[-1.57,0.45],[-1.52,0.45],[-1.46,0.48],[-1.40,0.49],[-1.32,0.46],[-1.28,0.48],[-1.24,0.40],[-1.15,0.36],[-1.10,0.56],[-1.21,0.59],[-1.25,0.65],[-1.17,0.65],[-1.11,0.67],[-1.04,0.66],[-1.27,0.78],[-1.27,0.90],[-1.23,0.84],[-1.19,0.83],[-1.24,0.72],[-1.19,0.72],[-0.80,0.54],[-0.66,0.50],[-0.66,0.86],[-0.76,0.81],[-1.17,1.08],[-1.13,1.09],[-1.09,1.07],[-1.20,1.03],[-1.16,1.04],[-1.12,1.02],[-1.08,1.03],[-1.04,1.04],[-0.94,1.03],[-1.19,0.99],[-1.15,0.98],[-1.11,1.00],[-1.07,0.99],[-1.03,0.98],[-0.99,1.00],[-0.95,0.99],[-0.91,0.98],[-0.79,0.99],[-0.75,0.98],[-0.70,0.99],[-1.17,0.94],[-1.13,0.95],[-1.09,0.93],[-1.05,0.94],[-1.01,0.95],[-0.98,0.93],[-0.94,0.94],[-0.90,0.95],[-0.86,0.93],[-0.78,0.94],[-0.72,0.95],[-1.19,0.89],[-1.13,0.90],[-1.09,0.88],[-1.05,0.89],[-1.01,0.90],[-0.98,0.88],[-0.92,0.89],[-0.88,0.90],[-0.84,0.88],[-0.80,0.89],[-1.12,0.85],[-1.08,0.84],[-1.04,0.86],[-1.00,0.85],[-0.96,0.84],[-0.92,0.86],[-0.87,0.85],[-0.82,0.84],[-1.13,0.80],[-1.09,0.81],[-1.05,0.79],[-1.01,0.80],[-0.98,0.81],[-0.94,0.79],[-0.90,0.80],[-0.86,0.81],[-1.16,0.75],[-1.12,0.76],[-1.08,0.74],[-1.03,0.75],[-0.99,0.76],[-0.95,0.74],[-0.91,0.75],[-1.11,0.71],[-1.03,0.70],[-0.99,0.72],[-0.92,0.71],[-1.14,1.05],[-1.06,1.01],[-1.01,1.02],[-0.97,0.97],[-1.03,0.96],[-1.07,0.91],[-1.00,0.92],[-0.96,0.91],[-0.90,0.92],[-1.02,0.87],[-0.94,0.87],[-0.89,0.86],[-1.07,0.82],[-1.00,0.83],[-0.92,0.83],[-1.05,0.77],[-0.97,0.78],[-0.88,0.77],[-1.10,1.05],[-1.02,1.05],[-0.97,1.01],[-0.93,1.00],[-1.09,0.97],[-0.98,0.96],[-0.92,0.96],[-0.84,0.91],[-1.11,0.92],[-1.03,0.92],[-0.94,0.90],[-0.98,0.86],[-0.90,0.84],[-1.10,0.87],[-1.03,0.82],[-0.96,0.82]];

var panelData = [
  [eso_nii, eso_sii, eso_oi],
  [ic_nii, ic_sii, ic_oi],
  [mrk_nii, mrk_sii, mrk_oi],
  [ngc_nii, ngc_sii, ngc_oi]
];

// ---- demarcation lines (Kewley et al. 2001, Kauffmann et al. 2003, Kewley et al. 2006) ----
function kewNII(x) { return 0.61 / (x - 0.47) + 1.19; }
function kauNII(x) { return 0.61 / (x - 0.05) + 1.30; }
function kewSII(x) { return 0.72 / (x - 0.32) + 1.30; }
function seySII(x) { return 1.89 * x + 0.76; }
function kewOI(x) { return 0.73 / (x + 0.59) + 1.33; }
function seyOI(x) { return 1.18 * x + 1.30; }

function crossing(f, g, a, b) {
  for (var i = 0; i < 60; i++) {
    var m = (a + b) / 2;
    if ((f(a) - g(a)) * (f(m) - g(m)) <= 0) b = m; else a = m;
  }
  return (a + b) / 2;
}

var solidCurves = [[kewNII, 0.469], [kewSII, 0.319], [kewOI, -0.591]];
var dashedCurves = [
  [kauNII, crossing(kewNII, kauNII, -1.6, -1.0), 0.049],
  [seySII, crossing(kewSII, seySII, -0.6, 0.0), 0.05],
  [seyOI, crossing(kewOI, seyOI, -1.4, -0.8), -0.4]
];

// ---- layout ----
var svg = d3.select("svg"),
    width = +svg.attr("width"),
    height = +svg.attr("height");

var left0 = 133, top0 = 14, pw = 336.33, ph = 323;
var dotColor = "#4169e1";

var y = d3.scaleLinear().domain([-1.5, 1.5]).range([ph, 0]);
var yMinor = d3.range(-15, 16).map(function(d) { return d / 10; });

svg.append("defs").append("clipPath").attr("id", "clip")
  .append("rect").attr("width", pw).attr("height", ph);

panelData.forEach(function(row, r) {
  row.forEach(function(pts, c) {
    var x = d3.scaleLinear().domain(xDomains[c]).range([0, pw]);
    var g = svg.append("g")
      .attr("transform", "translate(" + (left0 + c * pw) + "," + (top0 + r * ph) + ")");

    // grid
    var grid = g.append("g").attr("class", "grid");
    grid.selectAll(".gx").data(xMajor[c]).enter().append("line")
      .attr("x1", x).attr("x2", x).attr("y1", 0).attr("y2", ph);
    grid.selectAll(".gy").data(yMajor).enter().append("line")
      .attr("x1", 0).attr("x2", pw).attr("y1", y).attr("y2", y);

    var inner = g.append("g").attr("clip-path", "url(#clip)");

    // points
    inner.selectAll("circle").data(pts).enter().append("circle")
      .attr("cx", function(d) { return x(d[0]); })
      .attr("cy", function(d) { return y(d[1]); })
      .attr("r", 2.6)
      .attr("fill", dotColor);

    var line = d3.line()
      .x(function(d) { return x(d[0]); })
      .y(function(d) { return y(d[1]); });

    var sc = solidCurves[c];
    var xs = d3.range(xDomains[c][0], sc[1], 0.002);
    inner.append("path")
      .datum(xs.map(function(v) { return [v, Math.max(sc[0](v), -3)]; }))
      .attr("d", line)
      .attr("fill", "none").attr("stroke", "#000").attr("stroke-width", 2);

    var dc = dashedCurves[c];
    var xd = d3.range(dc[1], dc[2], 0.002).concat([dc[2]]);
    inner.append("path")
      .datum(xd.map(function(v) { return [v, Math.max(dc[0](v), -3)]; }))
      .attr("d", line)
      .attr("fill", "none").attr("stroke", "#000").attr("stroke-width", 2)
      .attr("stroke-dasharray", "7.4,3.2");

    // error bar
    var ex = errPosX[c], ey = errPosY, dx = errX[r][c], dy = errY[r];
    g.append("line")
      .attr("x1", x(ex - dx)).attr("x2", x(ex + dx)).attr("y1", y(ey)).attr("y2", y(ey))
      .attr("stroke", dotColor).attr("stroke-width", 1.8);
    g.append("line")
      .attr("x1", x(ex)).attr("x2", x(ex)).attr("y1", y(ey - dy)).attr("y2", y(ey + dy))
      .attr("stroke", dotColor).attr("stroke-width", 1.8);

    // axes
    var xMinorVals = d3.range(Math.ceil(xDomains[c][0] * 10), Math.floor(xDomains[c][1] * 10) + 1)
      .map(function(d) { return d / 10; });

    g.append("g").attr("transform", "translate(0," + ph + ")")
      .call(d3.axisBottom(x).tickValues(xMinorVals).tickSize(3.5).tickFormat(""))
      .call(function(a) { a.select(".domain").remove(); });
    g.append("g").attr("transform", "translate(0," + ph + ")")
      .call(d3.axisBottom(x).tickValues(xMajor[c]).tickSize(7).tickPadding(12)
        .tickFormat(function(d) { return r === 3 ? d.toFixed(1) : ""; }))
      .call(function(a) { a.select(".domain").remove(); a.selectAll("text").attr("font-family", null).attr("font-size", null); });

    g.append("g")
      .call(d3.axisLeft(y).tickValues(yMinor).tickSize(3.5).tickFormat(""))
      .call(function(a) { a.select(".domain").remove(); });
    g.append("g")
      .call(d3.axisLeft(y).tickValues(yMajor).tickSize(7).tickPadding(8)
        .tickFormat(function(d) {
          if (c !== 0 || (r > 0 && d === 1.5)) return "";
          return d3.format(".1f")(d);
        }))
      .call(function(a) { a.select(".domain").remove(); a.selectAll("text").attr("font-family", null).attr("font-size", null); });

    // frame
    g.append("rect").attr("width", pw).attr("height", ph)
      .attr("fill", "none").attr("stroke", "#000").attr("stroke-width", 1.5);
  });

  svg.append("text")
    .attr("class", "axislabel")
    .attr("transform", "translate(1168," + (top0 + r * ph + ph / 2) + ") rotate(-90)")
    .attr("text-anchor", "middle")
    .attr("dominant-baseline", "central")
    .text(galaxies[r]);
});

// x axis titles
xNames.forEach(function(n, c) {
  var t = svg.append("text")
    .attr("class", "axislabel")
    .attr("x", left0 + c * pw + pw / 2)
    .attr("y", 1378)
    .attr("text-anchor", "middle");
  t.append("tspan").text("log([" + n + "]/H");
  t.append("tspan").attr("font-style", "italic").text("α");
  t.append("tspan").text(")");
});

var yt = svg.append("text")
  .attr("class", "axislabel")
  .attr("transform", "translate(30," + (top0 + 2 * ph) + ") rotate(-90)")
  .attr("text-anchor", "middle")
  .attr("dominant-baseline", "central");
yt.append("tspan").text("log([OIII]/H");
yt.append("tspan").attr("font-style", "italic").text("β");
yt.append("tspan").text(")");

</script>
